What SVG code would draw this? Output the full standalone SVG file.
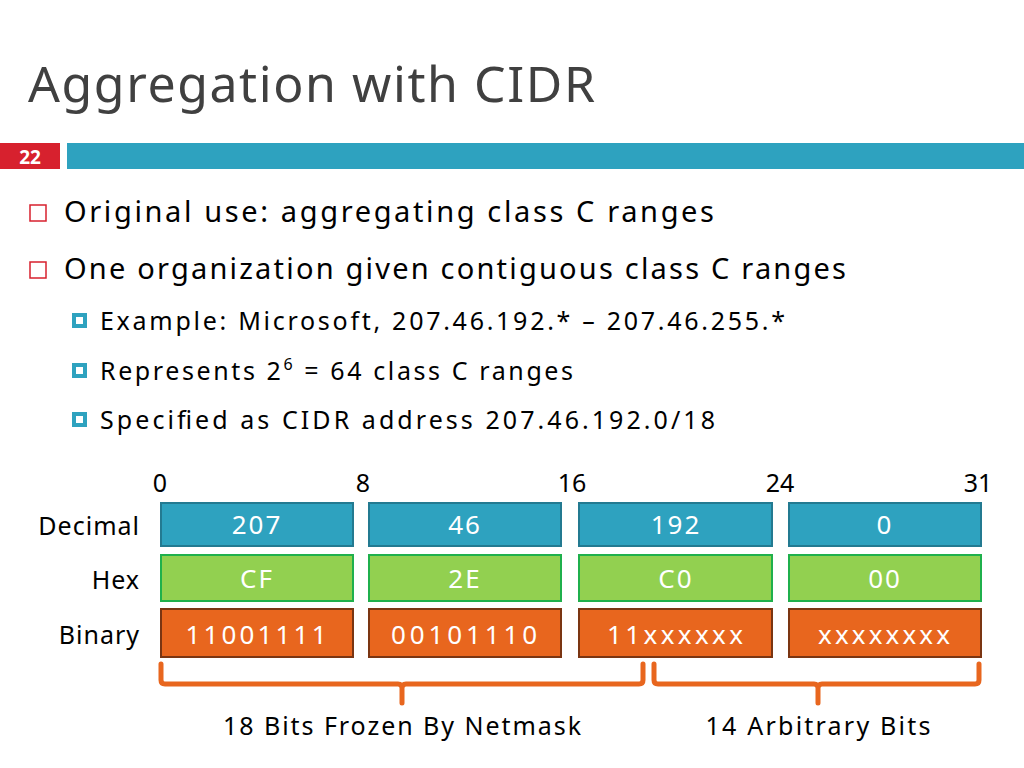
<svg xmlns="http://www.w3.org/2000/svg" width="1024" height="768" viewBox="0 0 1024 768">
<style>
text{font-family:"Noto Sans","Liberation Sans",sans-serif;}
.t{fill:#000}
.w{fill:#fff;font-size:26px;text-anchor:middle;letter-spacing:2px}
.dec{fill:#2ea2bf;stroke:#237a91;stroke-width:2}
.hex{fill:#92d050;stroke:#1fb04c;stroke-width:2}
.bin{fill:#e8661e;stroke:#7a3512;stroke-width:2}
.br{fill:none;stroke:#e8661e;stroke-width:5;stroke-linejoin:round;stroke-linecap:round}
</style>
<rect width="1024" height="768" fill="#fff"/>
<text x="28" y="102" font-size="50" fill="#404040" textLength="567" lengthAdjust="spacing">Aggregation with CIDR</text>
<rect x="0" y="143" width="60" height="26" fill="#d7212e"/>
<text x="30" y="164" font-size="19" font-weight="bold" fill="#fff" text-anchor="middle">22</text>
<rect x="67" y="143" width="957" height="26" fill="#2ea2bf"/>
<rect x="30" y="205" width="16" height="16" fill="none" stroke="#d7212e" stroke-width="1.5"/>
<text x="64" y="222" font-size="29" class="t" textLength="650" lengthAdjust="spacing">Original use: aggregating class C ranges</text>
<rect x="30" y="262" width="16" height="16" fill="none" stroke="#d7212e" stroke-width="1.5"/>
<text x="64" y="279" font-size="29" class="t" textLength="782" lengthAdjust="spacing">One organization given contiguous class C ranges</text>
<g font-size="25" class="t">
<rect x="72" y="313" width="15" height="15" fill="#2ea2bf"/><rect x="76" y="317" width="7" height="7" fill="#fff"/>
<text x="100" y="330" textLength="685" lengthAdjust="spacing">Example: Microsoft, 207.46.192.* – 207.46.255.*</text>
<rect x="72" y="363" width="15" height="15" fill="#2ea2bf"/><rect x="76" y="367" width="7" height="7" fill="#fff"/>
<text x="100" y="380" letter-spacing="2.6">Represents 2<tspan dy="-10" font-size="16">6</tspan><tspan dy="10"> = 64 class C ranges</tspan></text>
<rect x="72" y="412" width="15" height="15" fill="#2ea2bf"/><rect x="76" y="416" width="7" height="7" fill="#fff"/>
<text x="100" y="429" textLength="615" lengthAdjust="spacing">Specified as CIDR address 207.46.192.0/18</text>
</g>
<g font-size="25" class="t" text-anchor="middle">
<text x="160" y="492">0</text><text x="363" y="492">8</text><text x="572" y="492">16</text><text x="780" y="492">24</text><text x="978" y="492">31</text>
</g>
<g font-size="25" class="t" text-anchor="end" letter-spacing="1">
<text x="140" y="535">Decimal</text><text x="140" y="589">Hex</text><text x="140" y="644">Binary</text>
</g>
<g id="decimal">
<rect class="dec" x="161" y="503" width="192" height="43"/><text class="w" x="257" y="534">207</text>
<rect class="dec" x="369" y="503" width="192" height="43"/><text class="w" x="465" y="534">46</text>
<rect class="dec" x="579" y="503" width="193" height="43"/><text class="w" x="676" y="534">192</text>
<rect class="dec" x="789" y="503" width="192" height="43"/><text class="w" x="885" y="534">0</text>
</g>
<g id="hex">
<rect class="hex" x="161" y="555" width="192" height="46"/><text class="w" x="257" y="588">CF</text>
<rect class="hex" x="369" y="555" width="192" height="46"/><text class="w" x="465" y="588">2E</text>
<rect class="hex" x="579" y="555" width="193" height="46"/><text class="w" x="676" y="588">C0</text>
<rect class="hex" x="789" y="555" width="192" height="46"/><text class="w" x="885" y="588">00</text>
</g>
<g id="binary">
<rect class="bin" x="161" y="609" width="192" height="48"/><text class="w" x="257" y="644" textLength="143" lengthAdjust="spacing">11001111</text>
<rect class="bin" x="369" y="609" width="192" height="48"/><text class="w" x="465" y="644" textLength="148" lengthAdjust="spacing">00101110</text>
<rect class="bin" x="579" y="609" width="193" height="48"/><text class="w" x="676" y="644" textLength="138" lengthAdjust="spacing">11xxxxxx</text>
<rect class="bin" x="789" y="609" width="192" height="48"/><text class="w" x="885" y="644" textLength="134" lengthAdjust="spacing">xxxxxxxx</text>
</g>
<g id="connectors">
<path class="br" d="M161 664 V680 Q161 684 165 684 H398 Q402 684 402 688 V703 M402 688 Q402 684 406 684 H639 Q643 684 643 680 V664"/>
<path class="br" d="M654 664 V680 Q654 684 658 684 H814 Q818 684 818 688 V703 M818 688 Q818 684 822 684 H975 Q979 684 979 680 V664"/>
</g>
<g font-size="25" class="t" text-anchor="middle">
<text x="402" y="735" textLength="358" lengthAdjust="spacing">18 Bits Frozen By Netmask</text>
<text x="818" y="735" textLength="225" lengthAdjust="spacing">14 Arbitrary Bits</text>
</g>
</svg>
